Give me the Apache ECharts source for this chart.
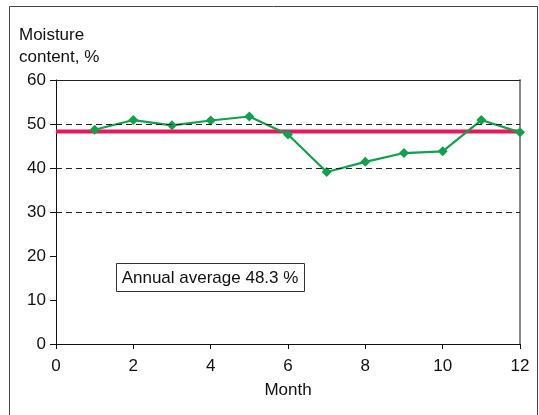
<!DOCTYPE html>
<html><head><meta charset="utf-8">
<script src="https://cdn.jsdelivr.net/npm/echarts@6/dist/echarts.min.js"></script>
<style>html,body{margin:0;padding:0;background:#fff}#c{width:539px;height:415px}</style>
</head><body><div id="c"></div>
<script>
const months = [1,2,3,4,5,6,7,8,9,10,11,12];
const moisture = [48.7,50.9,49.7,50.8,51.7,47.6,39.1,41.4,43.4,43.8,50.9,48.1];
const annualAverage = 48.3;
const avgSpan = [0,12];
const yTicks = [0,10,20,30,40,50,60];
const xTicks = [0,2,4,6,8,10,12];
const gridValues = [30,40,50];

const FONT = '"Liberation Sans",Arial,sans-serif';
const chart = echarts.init(document.getElementById('c'), null, {renderer:'canvas'});
chart.setOption({
  animation:false,
  backgroundColor:'#fff',
  grid:{left:56,right:19,top:80,bottom:71,containLabel:false},
  graphic:[
    {type:'rect',shape:{x:9.5,y:6.5,width:528,height:420},style:{fill:'none',stroke:'#444',lineWidth:1},silent:true,z:0},
    {type:'text',left:19,top:24,style:{text:'Moisture\ncontent, %',font:'17px '+FONT,fill:'#111',lineHeight:22},z:10},
    {type:'group',left:116,top:263,children:[
      {type:'rect',shape:{x:0.5,y:0.5,width:188,height:28},style:{fill:'#fff',stroke:'#333',lineWidth:1}},
      {type:'text',style:{x:94,y:15,text:'Annual average '+annualAverage+' %',font:'17px '+FONT,fill:'#111',align:'center',verticalAlign:'middle'}}
    ],z:10}
  ],
  xAxis:[{
    type:'value',min:xTicks[0],max:xTicks[xTicks.length-1],interval:2,position:'bottom',
    name:'Month',nameLocation:'middle',nameGap:38,
    nameTextStyle:{fontFamily:FONT,fontSize:17,color:'#111'},
    axisLine:{show:true,onZero:false,lineStyle:{color:'#111',width:1}},
    axisTick:{show:true,length:5,lineStyle:{color:'#111'}},
    axisLabel:{fontFamily:FONT,fontSize:17,color:'#111',margin:14},
    splitLine:{show:false}
  },{
    type:'value',min:0,max:12,position:'top',
    axisLine:{show:true,onZero:false,lineStyle:{color:'#222',width:1}},
    axisTick:{show:false},axisLabel:{show:false},splitLine:{show:false}
  }],
  yAxis:[{
    type:'value',min:yTicks[0],max:yTicks[yTicks.length-1],interval:10,position:'left',
    axisLine:{show:true,onZero:false,lineStyle:{color:'#111',width:1}},
    axisTick:{show:true,length:6,lineStyle:{color:'#111'}},
    axisLabel:{fontFamily:FONT,fontSize:17,color:'#111',margin:10},
    splitLine:{show:false}
  },{
    type:'value',min:0,max:60,position:'right',
    axisLine:{show:true,onZero:false,lineStyle:{color:'#888',width:2}},
    axisTick:{show:false},axisLabel:{show:false},splitLine:{show:false}
  }],
  series:[
    {type:'line',data:gridValues.map(v=>null),markLine:{silent:true,symbol:'none',label:{show:false},
      lineStyle:{color:'#222',type:[6,4],width:1},data:gridValues.map(v=>({yAxis:v}))},z:1},
    {type:'line',data:avgSpan.map(x=>[x,annualAverage]),symbol:'none',lineStyle:{color:'#e8185a',width:4},z:2},
    {type:'line',data:months.map((m,i)=>[m,moisture[i]]),symbol:'diamond',symbolSize:10,
      itemStyle:{color:'#13a04e'},lineStyle:{color:'#13a04e',width:2.2},z:3}
  ]
});
</script></body></html>
